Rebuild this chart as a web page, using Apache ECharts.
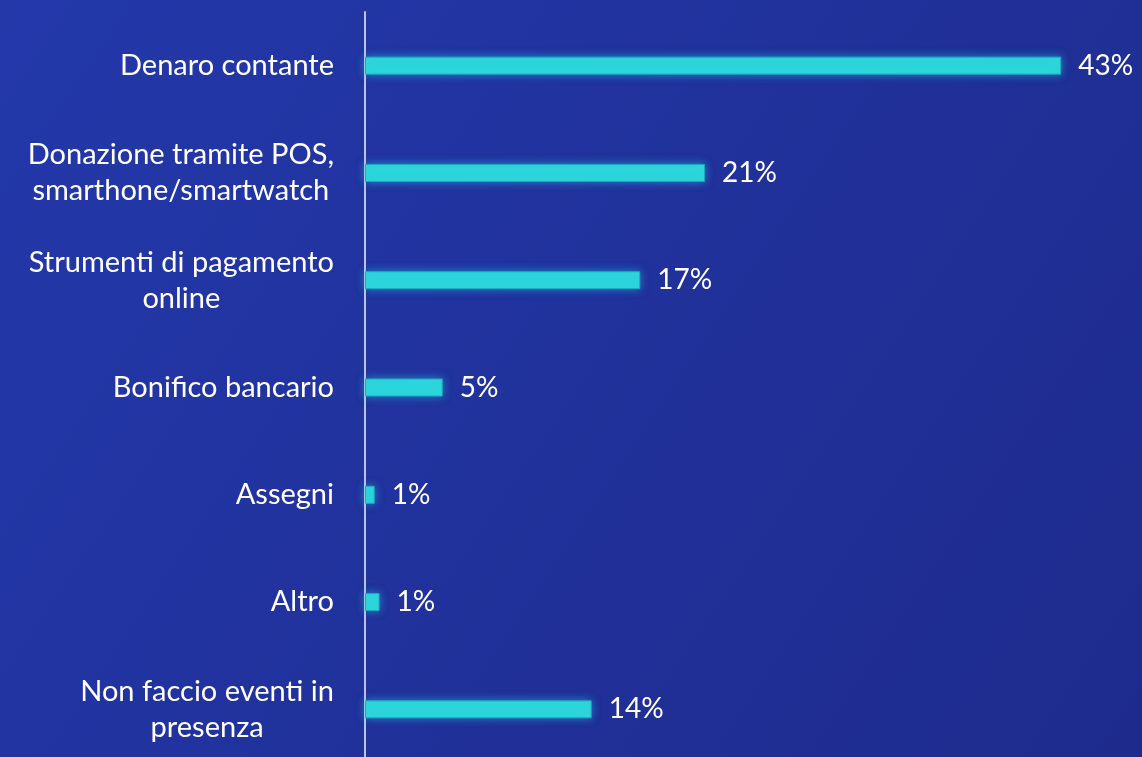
<!DOCTYPE html>
<html>
<head>
<meta charset="utf-8">
<script src="https://cdn.jsdelivr.net/npm/echarts@6/dist/echarts.min.js"></script>
<style>
  html, body { margin: 0; padding: 0; overflow: hidden; }
  /* un po' più alto della finestra: l'ultima riga esce di qualche pixel in basso */
  #chart { width: 1142px; height: 763px; }
</style>
</head>
<body>
<div id="chart"></div>
<script>
"use strict";

// categorie (dall'alto verso il basso)
const categorie = [
  'Denaro contante',
  'Donazione tramite POS,\nsmarthone/smartwatch',
  'Strumenti di pagamento\nonline',
  'Bonifico bancario',
  'Assegni',
  'Altro',
  'Non faccio eventi in\npresenza'
];
// valori (%)
const valori = [43, 21, 17, 4.8, 0.6, 0.9, 14];
// etichette mostrate
const etichette = ['43%', '21%', '17%', '5%', '1%', '1%', '14%'];

var chartElem = document.getElementById('chart');
var chart = echarts.init(chartElem);

const font = 'Lato, "Open Sans", sans-serif';

chart.setOption({
  backgroundColor: {
    type: 'linear', x: 0, y: 0, x2: 1, y2: 1,
    colorStops: [
      { offset: 0, color: '#2338aa' },
      { offset: 1, color: '#1e2b8d' }
    ]
  },
  grid: {
    left: 365,
    right: 16,
    top: 12,
    bottom: 0,
    containLabel: false
  },
  xAxis: {
    type: 'value',
    min: 0,
    max: 47,
    show: false
  },
  yAxis: {
    type: 'category',
    inverse: true,
    data: categorie,
    axisTick: { show: false },
    axisLine: {
      show: true,
      lineStyle: { color: 'rgba(215,220,245,0.85)', width: 2 }
    },
    axisLabel: {
      margin: 31,
      color: '#ffffff',
      fontFamily: font,
      fontSize: 29,
      lineHeight: 36,
      formatter: function (v) {
        return v.split('\n').map(function (r) { return '{c|' + r + '}'; }).join('\n');
      },
      rich: {
        c: { align: 'center', color: '#ffffff', fontFamily: font, fontSize: 29, lineHeight: 36 }
      }
    }
  },
  series: [{
    type: 'bar',
    data: valori,
    barWidth: 18,
    itemStyle: {
      color: '#2cd5da',
      borderColor: '#1fa8bf',
      borderWidth: 1,
      shadowBlur: 9,
      shadowColor: 'rgba(40,220,235,0.5)'
    },
    label: {
      show: true,
      position: 'right',
      distance: 17,
      color: '#ffffff',
      fontFamily: font,
      fontSize: 28,
      formatter: function (p) { return etichette[p.dataIndex]; }
    }
  }]
});

window.addEventListener('resize', function () {
  chart.resize();
});
</script>
</body>
</html>
